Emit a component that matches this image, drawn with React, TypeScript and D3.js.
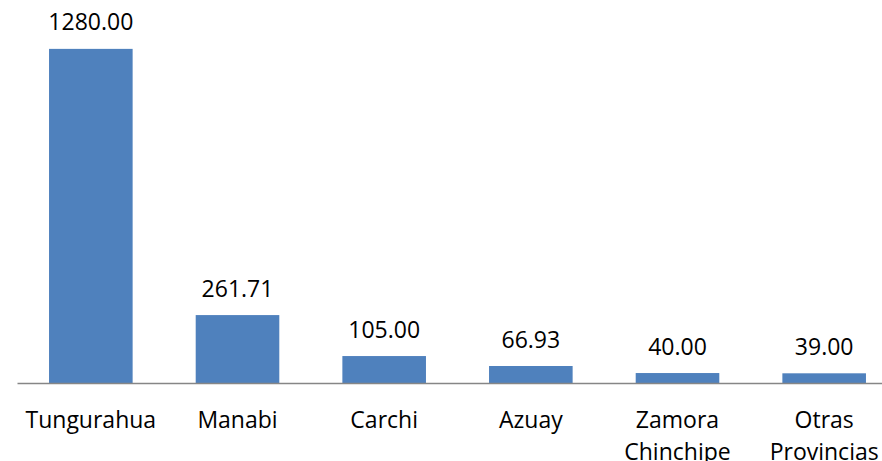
import React from "react";
import * as d3 from "d3";

const categories = ["Tungurahua", "Manabi", "Carchi", "Azuay", "Zamora Chinchipe", "Otras Provincias"];
const values = [1280.0, 261.71, 105.0, 66.93, 40.0, 39.0];

const W = 882;
const H = 461;
const FONT = "'Open Sans', sans-serif";

export default function App() {
  const x = d3
    .scaleBand<string>()
    .domain(categories)
    .range([17.5, 897.5])
    .paddingInner(0.43)
    .paddingOuter(0.215);
  const y = d3.scaleLinear().domain([0, 1400]).range([383.5, 17.5]);
  const fmt = d3.format(".2f");

  return (
    <svg
      width={W}
      height={H}
      style={{ position: "fixed", left: 0, top: 0, background: "#fff" }}
    >
      {categories.map((c, i) => {
        const bx = x(c) as number;
        const cx = bx + x.bandwidth() / 2;
        const words = c.split(" ");
        return (
          <g key={c}>
            <rect
              x={bx}
              y={y(values[i])}
              width={x.bandwidth()}
              height={y(0) - y(values[i])}
              fill="#4F81BD"
            />
            <text
              x={cx}
              y={y(values[i]) - 18.5}
              textAnchor="middle"
              fontFamily={FONT}
              fontSize={23}
              fill="#000"
            >
              {fmt(values[i])}
            </text>
            <text
              x={cx}
              y={427.5}
              textAnchor="middle"
              fontFamily={FONT}
              fontSize={23}
              fill="#000"
            >
              {words.map((w, k) => (
                <tspan key={k} x={cx} dy={k === 0 ? 0 : 32}>
                  {w}
                </tspan>
              ))}
            </text>
          </g>
        );
      })}
      <line x1={17.5} x2={882} y1={y(0)} y2={y(0)} stroke="#868686" strokeWidth={1.5} />
    </svg>
  );
}
